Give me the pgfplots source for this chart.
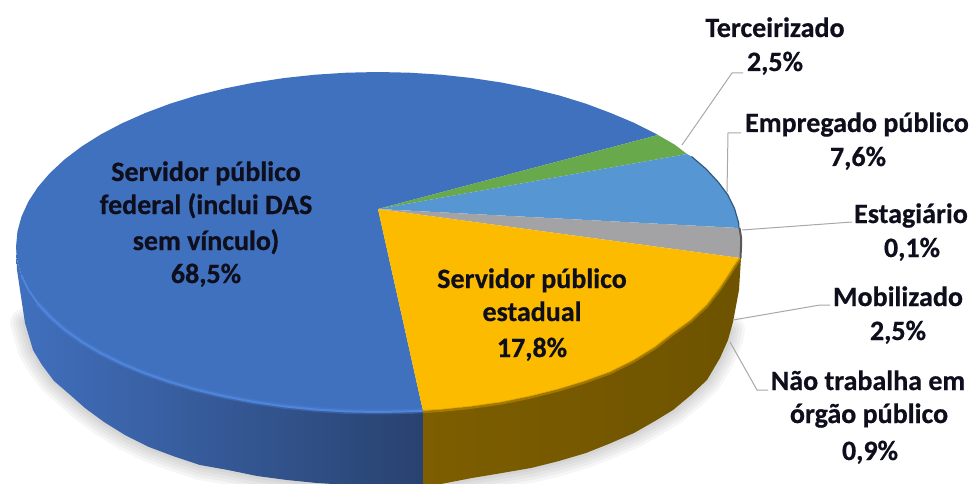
\documentclass[border=0pt]{standalone}
\usepackage{pgfplots}
\pgfplotsset{compat=1.18}
\usepackage{fontspec}
\setmainfont[BoldFeatures={FakeBold=0.6}]{Carlito}

\definecolor{fedblue}{HTML}{4071BE}
\definecolor{fedsideL}{HTML}{4170BE}
\definecolor{fedsideM}{HTML}{355EA4}
\definecolor{fedsideR}{HTML}{29426F}
\definecolor{rimblue}{HTML}{4F85DC}
\definecolor{estyellow}{HTML}{FDBB00}
\definecolor{estsideL}{HTML}{7D5E00}
\definecolor{estsideR}{HTML}{6E5300}
\definecolor{tergreen}{HTML}{68A94C}
\definecolor{empblue}{HTML}{5596D3}
\definecolor{mobgrey}{HTML}{A3A3A5}
\definecolor{leader}{HTML}{A8A8A8}
\definecolor{ink}{HTML}{0E0E1C}

\newcommand{\lab}[3]{\node[anchor=base,inner sep=0pt,text=ink,font=\fontsize{28}{28}\selectfont\bfseries] at (axis cs:#1,#2) {#3};}

\begin{document}
\begin{tikzpicture}
\begin{axis}[
    width=972pt, height=484pt, scale only axis,
    xmin=0, xmax=972, ymin=0, ymax=484,
    y dir=reverse,
    hide axis,
]
\path (rel axis cs:0,0) rectangle (rel axis cs:1,1);

% soft shadow under the pie
\pgfplotsinvokeforeach{6,12,18,24,30}{
\addplot[draw=black, opacity=0.035, line width=#1pt, line join=round, line cap=round] coordinates {
    (25,323)(33,350)(42,365)(54,381)(68,393)(85,408)(104,422)(125,435)(149,447)
    (173,456)(200,465)(228,470)(257,476)(287,480)(317,483)(349,485)(380,486)(423,486)
    (441,484)(472,478)(502,473)(531,468)(559,461)(586,453)(611,443)(634,433)(655,421)
    (673,410)(691,395)(707,380)(720,358)(728,340)(730,330)
};
}

% side of the pie
\addplot[draw=none, left color=fedsideL, middle color=fedsideM, right color=fedsideR] coordinates {
    (16,247)(17.4,261.4)(21.5,275.6)(28.3,289.7)(37.8,303.4)(50,316.7)(64.5,329.5)(81.5,341.6)
    (100.7,353.1)(122,363.7)(145.3,373.4)(170.4,382.2)(197,389.9)(225,396.5)(254.2,402)
    (284.3,406.4)(315.2,409.5)(346.4,411.4)(378,412)(409.6,411.4)(423,410.8)
    (423,486)(380,486)(349,485)(317,483)(287,480)(257,476)(228,470)(200,465)(173,456)(149,447)
    (125,435)(104,422)(85,408)(68,393)(54,381)(42,365)(33,350)(25,323)(20,290)(17,270)
} --cycle;
\addplot[draw=none, left color=estsideL, right color=estsideR] coordinates {
    (423,410.8)(441,409.5)(471,406.4)(502,402)(531,396)(559,389)(585,381)(610,372)(634,360)
    (655,347)(673,333)(691,320)(707,305)(720,288)(730,273)(735,265)(740,258)
    (741,258)(739,290)(733,322)(728,340)(720,358)(707,380)(691,395)(673,410)(655,421)(634,433)
    (611,443)(586,453)(559,461)(531,468)(502,473)(472,478)(441,484)(423,486)
} --cycle;

% top of the pie
\addplot[draw=none, fill=fedblue] coordinates {
    (378,209)(658,135)(655.3,133.5)(634,122.8)(610.7,113)(585.6,103.6)(559,95.4)(531,88.4)
    (501.8,82.6)(471.7,78)(440.8,74.7)(409.6,72.7)(378,72)(346.4,72.7)(315.2,74.7)(284.3,78)
    (254.2,82.6)(225,88.4)(197,95.4)(170.4,103.6)(145.3,113)(122,123.3)(100.7,134.5)(81.5,146.6)
    (64.5,159.5)(50,173)(37.8,187.1)(28.3,201.7)(21.5,216.6)(17.4,231.7)(16,247)
    (17.4,261.4)(21.5,275.6)(28.3,289.7)(37.8,303.4)(50,316.7)(64.5,329.5)(81.5,341.6)
    (100.7,353.1)(122,363.7)(145.3,373.4)(170.4,382.2)(197,389.9)(225,396.5)(254.2,402)
    (284.3,406.4)(315.2,409.5)(346.4,411.4)(378,412)(409.6,411.4)(423,410.8)
} --cycle;
\addplot[draw=none, fill=tergreen] coordinates {
    (378,209)(658,135)(674.6,144.6)(687,154)
} --cycle;
\addplot[draw=none, fill=empblue] coordinates {
    (378,209)(687,154)(691.5,156.5)(706.1,169)(718.2,182.1)(727.7,194.7)(734.5,208.6)(738.6,222.7)(739,228)
} --cycle;
\addplot[draw=none, fill=mobgrey] coordinates {
    (378,209)(739,228)(741,237)(741,247)(740,258)
} --cycle;
\addplot[draw=none, fill=estyellow] coordinates {
    (378,209)(740,258)(735,265)(730,273)(720,288)(707,305)(691,320)(673,333)(655,347)(634,360)
    (610,372)(585,381)(559,389)(531,396)(502,402)(471,406.4)(441,409.5)(423,410.8)
} --cycle;

% rim highlights
\addplot[draw=rimblue, opacity=0.35, line width=5pt] coordinates {
    (37.8,303.4)(50,316.7)(64.5,329.5)(81.5,341.6)
    (100.7,353.1)(122,363.7)(145.3,373.4)(170.4,382.2)(197,389.9)(225,396.5)(254.2,402)
    (284.3,406.4)(315.2,409.5)(346.4,411.4)(378,412)(409.6,411.4)(423,410.8)
};
\addplot[draw=rimblue, line width=2pt] coordinates {
    (21.5,275.6)(28.3,289.7)(37.8,303.4)(50,316.7)(64.5,329.5)(81.5,341.6)
    (100.7,353.1)(122,363.7)(145.3,373.4)(170.4,382.2)(197,389.9)(225,396.5)(254.2,402)
    (284.3,406.4)(315.2,409.5)(346.4,411.4)(378,412)(409.6,411.4)(423,410.8)
};
\addplot[draw=estyellow!75!black, opacity=0.6, line width=3pt] coordinates {
    (423,411.5)(441,410.5)(471,407.4)(502,403)(531,397)(559,390)(585,382)(610,373)(634,361)
    (655,348)(673,334)(691,321)(707,306)(720,289)(730,274)(735,266)(740,259)
};
\addplot[draw=empblue!60!black, line width=1.2pt] coordinates {
    (691.5,156.5)(706.1,169)(718.2,182.1)(727.7,194.7)(734.5,208.6)(738.6,222.7)(739,228)
};
\addplot[draw=black!65, line width=2pt] coordinates {
    (739.5,228)(741,237)(741,247)(740.5,258)
};

% leader lines
\addplot[draw=leader, line width=1pt] coordinates {(682,145)(732,73)(743,73)};
\addplot[draw=leader, line width=1pt] coordinates {(727,192)(728,133)(741,133)};
\addplot[draw=leader, line width=1pt] coordinates {(742,230)(852,222)};
\addplot[draw=leader, line width=1pt] coordinates {(733,320)(820,305)(830,305)};
\addplot[draw=leader, line width=1pt] coordinates {(730,342)(757,390)(768,390)};

% labels
\lab{206}{181}{Servidor público}
\lab{206}{214}{federal (inclui DAS}
\lab{206}{250}{sem vínculo)}
\lab{206}{283}{68,5\%}
\lab{532}{288}{Servidor público}
\lab{532}{321}{estadual}
\lab{532}{357}{17,8\%}
\lab{775}{37}{Terceirizado}
\lab{775}{71}{2,5\%}
\lab{857}{132}{Empregado público}
\lab{858}{166}{7,6\%}
\lab{911}{223}{Estagiário}
\lab{912}{257}{0,1\%}
\lab{898}{306}{Mobilizado}
\lab{898}{340}{2,5\%}
\lab{868}{390}{Não trabalha em}
\lab{869}{423}{órgão público}
\lab{870}{460}{0,9\%}
\end{axis}
\end{tikzpicture}
\end{document}
